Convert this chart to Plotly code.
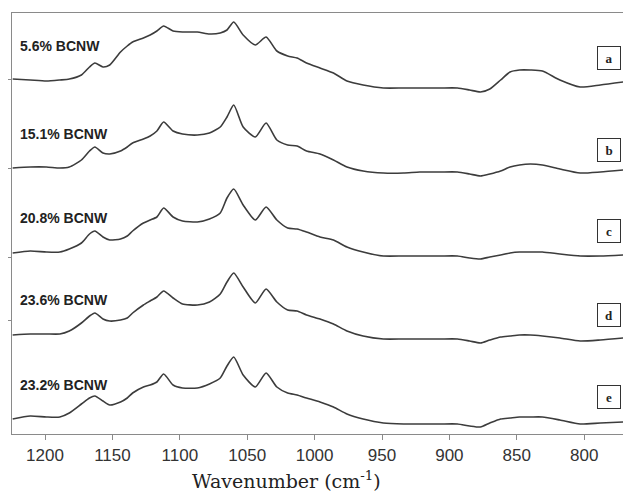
import plotly.graph_objects as go

# Wavenumber grid (cm^-1)
wavenumber = [1224, 1211, 1199, 1189, 1182, 1173, 1167, 1163, 1157, 1152, 1144, 1139, 1135,
              1127, 1122, 1117, 1112, 1105, 1098, 1087, 1078, 1070, 1065, 1060, 1053, 1044,
              1036, 1028, 1020, 1013, 1006, 996, 986, 976, 964, 949, 934, 922, 907, 894, 885,
              877, 870, 862, 855, 848, 840, 831, 818, 803, 788, 771]

# Spectra intensities (arbitrary units)
spec_a = [13, 12, 11, 12, 13, 17, 25, 29, 25, 27, 40, 46, 50, 54, 57, 61, 66, 61, 60, 60, 58, 59,
          62, 70, 57, 47, 55, 41, 36, 34, 29, 24, 19, 11, 7, 4, 4, 4, 4, 4, 2, 0, 3, 12, 20, 22,
          22, 21, 12, 5, 7, 10]
spec_b = [8, 9, 9, 8, 9, 16, 25, 29, 23, 22, 25, 29, 33, 37, 40, 45, 54, 45, 42, 41, 43, 49, 59,
          71, 49, 39, 53, 36, 31, 30, 25, 22, 16, 9, 5, 3, 3, 4, 4, 4, 2, 0, 2, 5, 9, 11, 12, 11,
          7, 3, 4, 6]
spec_c = [6, 8, 7, 7, 10, 16, 25, 28, 22, 19, 20, 23, 28, 36, 39, 42, 51, 42, 38, 37, 40, 46, 61,
          70, 54, 39, 52, 39, 31, 30, 27, 22, 19, 12, 7, 3, 3, 3, 3, 3, 1, 0, 2, 4, 6, 7, 7, 7, 5,
          3, 3, 4]
spec_d = [8, 9, 9, 9, 12, 20, 27, 30, 24, 22, 23, 25, 30, 38, 42, 46, 52, 45, 39, 38, 41, 49, 61,
          70, 56, 40, 54, 41, 33, 32, 28, 24, 19, 12, 7, 4, 4, 4, 4, 4, 2, 0, 3, 6, 7, 8, 8, 7, 5,
          2, 3, 5]
spec_e = [8, 11, 10, 10, 14, 23, 29, 31, 26, 22, 25, 29, 34, 40, 42, 45, 53, 42, 39, 39, 43, 49,
          61, 70, 52, 40, 54, 40, 34, 32, 29, 25, 20, 13, 8, 4, 3, 3, 3, 3, 1, 0, 4, 8, 9, 10, 10,
          10, 7, 3, 4, 5]

series = [spec_a, spec_b, spec_c, spec_d, spec_e]
sample_labels = ["5.6% BCNW", "15.1% BCNW", "20.8% BCNW", "23.6% BCNW", "23.2% BCNW"]
panel_letters = ["a", "b", "c", "d", "e"]
offsets = [342, 258, 175, 91, 7]
label_shift = [46, 42, 41, 43, 42]
letter_shift = [34, 26, 28, 28, 30]
x_ticks = [1200, 1150, 1100, 1050, 1000, 950, 900, 850, 800]
y_ticks = [355, 266, 177, 114]

fig = go.Figure()
for vals, off in zip(series, offsets):
    fig.add_trace(go.Scatter(
        x=wavenumber, y=[v + off for v in vals], mode="lines",
        line=dict(color="#3c3c3c", width=1.6, shape="spline", smoothing=0.6),
        showlegend=False, hoverinfo="skip"))

annotations = []
for lab, let, off, ls, lt in zip(sample_labels, panel_letters, offsets, label_shift, letter_shift):
    annotations.append(dict(
        x=0.01, xref="paper", y=off + ls, yref="y", text="<b>" + lab + "</b>", showarrow=False,
        xanchor="left", yanchor="middle",
        font=dict(family="Liberation Sans, Arial", size=14, color="#222222")))
    annotations.append(dict(
        x=0.977, xref="paper", y=off + lt, yref="y", text="<b>" + let + "</b>",
        showarrow=False, xanchor="center", yanchor="middle",
        width=18, height=18, borderpad=2, borderwidth=1, bordercolor="#333333",
        bgcolor="white",
        font=dict(family="Liberation Serif, Times New Roman", size=13, color="#222222")))

annotations.append(dict(
    x=0.45, xref="paper", y=-0.11, yref="paper",
    text="Wavenumber (cm<sup>-1</sup>)", showarrow=False,
    xanchor="center", yanchor="middle",
    font=dict(family="DejaVu Serif, Liberation Serif", size=19, color="#222222")))

fig.update_layout(
    width=623, height=502,
    margin=dict(l=12, r=0, t=13, b=68),
    paper_bgcolor="white", plot_bgcolor="white",
    annotations=annotations,
    xaxis=dict(range=[1224.5, 771.2], tickvals=x_ticks,
               ticktext=[str(t) for t in x_ticks],
               showline=True, linecolor="#8a8a8a", linewidth=1, mirror=True,
               ticks="outside", ticklen=5, tickcolor="#8a8a8a",
               showgrid=False, zeroline=False, ticklabelstandoff=1,
               tickfont=dict(family="Liberation Sans, Arial", size=17, color="#333333")),
    yaxis=dict(range=[0, 421], tickvals=y_ticks, showticklabels=False,
               showline=True, linecolor="#8a8a8a", linewidth=1,
               ticks="outside", ticklen=3, tickcolor="#8a8a8a",
               showgrid=False, zeroline=False),
)

fig.write_html("out.html", config={"displayModeBar": False},
               post_script="document.body.style.margin='0';document.body.style.overflow='hidden';")
